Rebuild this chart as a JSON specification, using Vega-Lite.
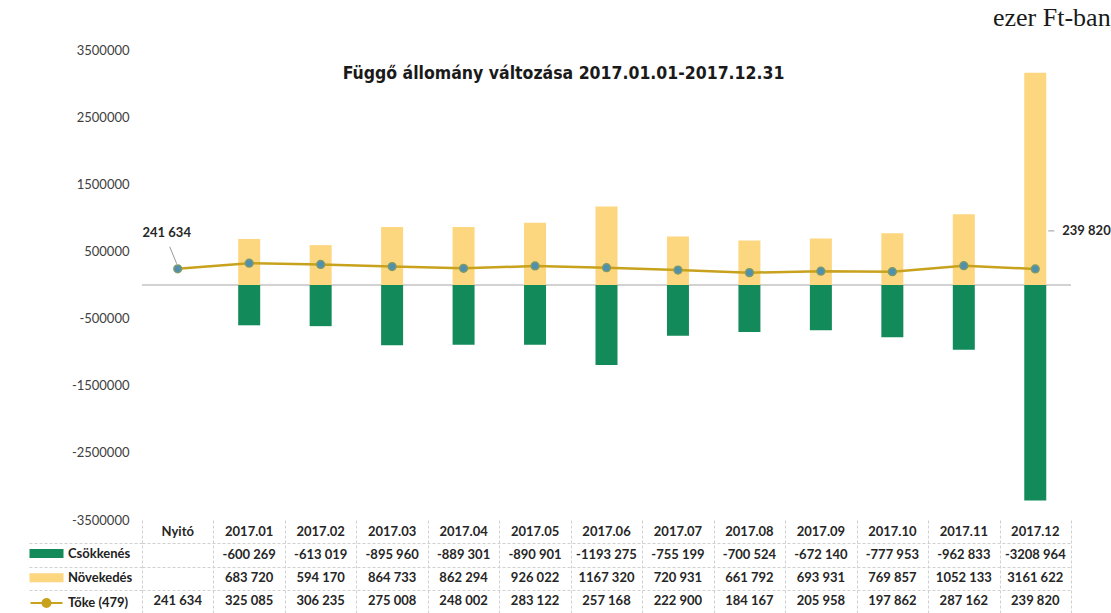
{
  "$schema": "https://vega.github.io/schema/vega-lite/v6.json",
  "background": "white",
  "padding": {"left": 28, "top": 5, "right": 2, "bottom": 0},
  "bounds": "flush",
  "spacing": 0,
  "title": {"text": "ezer Ft-ban", "anchor": "end", "font": "Liberation Serif", "fontSize": 26, "fontWeight": "normal", "color": "#1a1a1a", "offset": 13},
  "config": {
    "locale": {"number": {"decimal": ",", "thousands": " ", "grouping": [3, 6], "currency": ["", ""], "minus": "-"}},
    "view": {"stroke": null},
    "font": "Lato"
  },
  "datasets": {
    "d": [
      {"cat": "Nyitó", "series": "Tőke (479)", "value": 241634},
      {"cat": "2017.01", "series": "Tőke (479)", "value": 325085},
      {"cat": "2017.02", "series": "Tőke (479)", "value": 306235},
      {"cat": "2017.03", "series": "Tőke (479)", "value": 275008},
      {"cat": "2017.04", "series": "Tőke (479)", "value": 248002},
      {"cat": "2017.05", "series": "Tőke (479)", "value": 283122},
      {"cat": "2017.06", "series": "Tőke (479)", "value": 257168},
      {"cat": "2017.07", "series": "Tőke (479)", "value": 222900},
      {"cat": "2017.08", "series": "Tőke (479)", "value": 184167},
      {"cat": "2017.09", "series": "Tőke (479)", "value": 205958},
      {"cat": "2017.10", "series": "Tőke (479)", "value": 197862},
      {"cat": "2017.11", "series": "Tőke (479)", "value": 287162},
      {"cat": "2017.12", "series": "Tőke (479)", "value": 239820},
      {"cat": "2017.01", "series": "Csökkenés", "value": -600269},
      {"cat": "2017.02", "series": "Csökkenés", "value": -613019},
      {"cat": "2017.03", "series": "Csökkenés", "value": -895960},
      {"cat": "2017.04", "series": "Csökkenés", "value": -889301},
      {"cat": "2017.05", "series": "Csökkenés", "value": -890901},
      {"cat": "2017.06", "series": "Csökkenés", "value": -1193275},
      {"cat": "2017.07", "series": "Csökkenés", "value": -755199},
      {"cat": "2017.08", "series": "Csökkenés", "value": -700524},
      {"cat": "2017.09", "series": "Csökkenés", "value": -672140},
      {"cat": "2017.10", "series": "Csökkenés", "value": -777953},
      {"cat": "2017.11", "series": "Csökkenés", "value": -962833},
      {"cat": "2017.12", "series": "Csökkenés", "value": -3208964},
      {"cat": "2017.01", "series": "Növekedés", "value": 683720},
      {"cat": "2017.02", "series": "Növekedés", "value": 594170},
      {"cat": "2017.03", "series": "Növekedés", "value": 864733},
      {"cat": "2017.04", "series": "Növekedés", "value": 862294},
      {"cat": "2017.05", "series": "Növekedés", "value": 926022},
      {"cat": "2017.06", "series": "Növekedés", "value": 1167320},
      {"cat": "2017.07", "series": "Növekedés", "value": 720931},
      {"cat": "2017.08", "series": "Növekedés", "value": 661792},
      {"cat": "2017.09", "series": "Növekedés", "value": 693931},
      {"cat": "2017.10", "series": "Növekedés", "value": 769857},
      {"cat": "2017.11", "series": "Növekedés", "value": 1052133},
      {"cat": "2017.12", "series": "Növekedés", "value": 3161622}
    ]
  },
  "vconcat": [
    {
      "width": 929,
      "height": 470,
      "data": {"name": "d"},
      "title": {"text": "Függő állomány változása 2017.01.01-2017.12.31", "frame": "group", "anchor": "middle", "orient": "top", "offset": 0, "baseline": "alphabetic", "dx": -43, "dy": 52, "font": "DejaVu Sans Condensed", "fontSize": 17.5, "fontWeight": "bold", "color": "#1a1a1a"},
      "layer": [
        {
          "data": {"values": [{}]},
          "mark": {"type": "rule", "color": "#a6a6a6", "strokeWidth": 1.2},
          "encoding": {"y": {"datum": 0, "type": "quantitative"}}
        },
        {
          "transform": [{"filter": "datum.series !== 'Tőke (479)'"}],
          "mark": {"type": "bar", "width": 22},
          "encoding": {
            "x": {"field": "cat", "type": "nominal", "scale": {"domain": ["Nyitó","2017.01","2017.02","2017.03","2017.04","2017.05","2017.06","2017.07","2017.08","2017.09","2017.10","2017.11","2017.12"], "paddingInner": 0, "paddingOuter": 0}, "axis": null},
            "y": {"field": "value", "type": "quantitative", "stack": null, "scale": {"domain": [-3500000, 3500000], "nice": false, "zero": false},
              "axis": {"values": [3500000, 2500000, 1500000, 500000, -500000, -1500000, -2500000, -3500000], "format": "d", "title": null, "domain": false, "ticks": false, "labelPadding": 13, "labelFont": "Lato", "labelFontSize": 13, "labelColor": "#404040", "gridColor": "#d4d4d4", "gridDash": [4, 3]}},
            "color": {"field": "series", "type": "nominal",
              "scale": {"domain": ["Csökkenés", "Növekedés", "Tőke (479)"], "range": ["#138a5a", "#fdd680", "#c8a21c"]},
              "legend": {
                "orient": "none", "legendX": -102, "legendY": 497, "direction": "vertical", "title": null,
                "padding": 0, "symbolSize": 64, "rowPadding": 9.25, "labelOffset": 15,
                "labelFont": "Lato", "labelFontSize": 13, "labelFontWeight": "bold", "labelColor": "#222222",
                "encode": {"symbols": {"update": {
                  "shape": {"signal": "datum.value === 'Tőke (479)' ? 'M-4,0H4M-1,0A1,1 0 1,0 1,0A1,1 0 1,0 -1,0Z' : 'M-4,-0.85H4V0.85H-4Z'"},
                  "fill": {"signal": "datum.value === 'Tőke (479)' ? '#7d9a4e' : (datum.value === 'Csökkenés' ? '#138a5a' : '#fdd680')"},
                  "stroke": {"signal": "datum.value === 'Tőke (479)' ? '#c8a21c' : 'transparent'"},
                  "strokeWidth": {"value": 2},
                  "opacity": {"value": 1}
                }}}
              }
            }
          }
        },
        {
          "transform": [{"filter": "datum.series === 'Tőke (479)' && datum.cat === 'Nyitó'"}],
          "mark": {"type": "rule", "color": "#9a9a9a", "strokeWidth": 1, "xOffset": -8, "yOffset": -22, "x2Offset": -1, "y2Offset": -5},
          "encoding": {
            "x": {"field": "cat", "type": "nominal", "bandPosition": 0.5},
            "x2": {"field": "cat", "bandPosition": 0.5},
            "y": {"field": "value", "type": "quantitative"},
            "y2": {"field": "value"}
          }
        },
        {
          "transform": [{"filter": "datum.series === 'Tőke (479)' && datum.cat === '2017.12'"}],
          "mark": {"type": "rule", "color": "#9a9a9a", "strokeWidth": 1, "xOffset": 13, "yOffset": -38, "x2Offset": 19, "y2Offset": -38},
          "encoding": {
            "x": {"field": "cat", "type": "nominal", "bandPosition": 0.5},
            "x2": {"field": "cat", "bandPosition": 0.5},
            "y": {"field": "value", "type": "quantitative"},
            "y2": {"field": "value"}
          }
        },
        {
          "transform": [{"filter": "datum.series === 'Tőke (479)'"}],
          "mark": {"type": "line", "strokeWidth": 2.5},
          "encoding": {
            "x": {"field": "cat", "type": "nominal"},
            "y": {"field": "value", "type": "quantitative"},
            "color": {"field": "series", "type": "nominal"}
          }
        },
        {
          "transform": [{"filter": "datum.series === 'Tőke (479)'"}],
          "mark": {"type": "point", "filled": true, "fill": "#4f8fb0", "stroke": "#7d9a6a", "strokeWidth": 1.5, "size": 60, "opacity": 1},
          "encoding": {
            "x": {"field": "cat", "type": "nominal"},
            "y": {"field": "value", "type": "quantitative"}
          }
        },
        {
          "transform": [{"filter": "datum.series === 'Tőke (479)' && datum.cat === 'Nyitó'"}],
          "mark": {"type": "text", "font": "Lato", "fontSize": 13, "fontWeight": "bold", "color": "#262626", "dx": -11, "dy": -36, "align": "center"},
          "encoding": {
            "x": {"field": "cat", "type": "nominal"},
            "y": {"field": "value", "type": "quantitative"},
            "text": {"field": "value", "type": "quantitative", "format": ",d"}
          }
        },
        {
          "transform": [{"filter": "datum.series === 'Tőke (479)' && datum.cat === '2017.12'"}],
          "mark": {"type": "text", "font": "Lato", "fontSize": 13, "fontWeight": "bold", "color": "#262626", "dx": 27, "dy": -38, "align": "left"},
          "encoding": {
            "x": {"field": "cat", "type": "nominal"},
            "y": {"field": "value", "type": "quantitative"},
            "text": {"field": "value", "type": "quantitative", "format": ",d"}
          }
        }
      ]
    },
    {
      "width": 929,
      "height": 93,
      "data": {"name": "d"},
      "layer": [
        {
          "mark": {"type": "text", "font": "Lato", "fontSize": 13, "fontWeight": "bold", "color": "#262626"},
          "encoding": {
            "x": {"field": "cat", "type": "nominal", "scale": {"domain": ["Nyitó","2017.01","2017.02","2017.03","2017.04","2017.05","2017.06","2017.07","2017.08","2017.09","2017.10","2017.11","2017.12"], "paddingInner": 0, "paddingOuter": 0},
              "axis": {"title": null, "labels": false, "ticks": false, "domain": false, "grid": true, "tickBand": "extent", "gridColor": "#d0d0d0", "gridDash": [3, 2]}},
            "y": {"field": "series", "type": "nominal", "scale": {"domain": ["hdr", "Csökkenés", "Növekedés", "Tőke (479)"], "paddingInner": 0, "paddingOuter": 0},
              "axis": {"title": null, "labels": false, "domain": false, "values": ["Csökkenés", "Növekedés", "Tőke (479)"], "ticks": true, "tickBand": "extent", "tickSize": 113, "tickColor": "#d0d0d0", "tickDash": [3, 2], "grid": true, "gridColor": "#d0d0d0", "gridDash": [3, 2]}},
            "text": {"field": "value", "type": "quantitative", "format": ",d"}
          }
        },
        {
          "transform": [{"filter": "datum.series === 'Tőke (479)'"}],
          "mark": {"type": "text", "font": "Lato", "fontSize": 13, "fontWeight": "bold", "color": "#262626"},
          "encoding": {
            "x": {"field": "cat", "type": "nominal"},
            "y": {"datum": "hdr", "type": "nominal"},
            "text": {"field": "cat", "type": "nominal"}
          }
        }
      ]
    }
  ]
}
